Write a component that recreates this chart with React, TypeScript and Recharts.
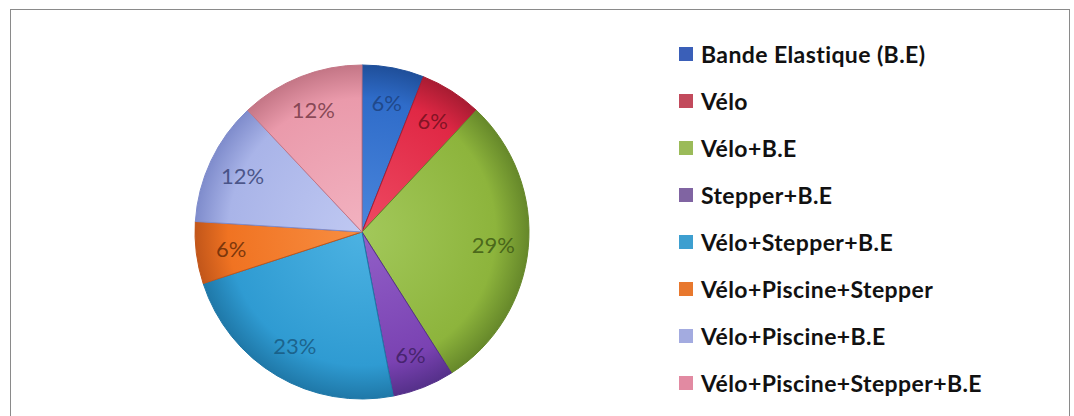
import React from 'react';
import { PieChart, Pie, Cell, Legend } from 'recharts';

const categories = [
  'Bande Elastique (B.E)',
  'Vélo',
  'Vélo+B.E',
  'Stepper+B.E',
  'Vélo+Stepper+B.E',
  'Vélo+Piscine+Stepper',
  'Vélo+Piscine+B.E',
  'Vélo+Piscine+Stepper+B.E',
];
const percents = [6, 6, 29, 6, 23, 6, 12, 12];
const sliceColors = ['#2f6cc9', '#e02845', '#8db43c', '#7a42b2', '#2f9bd2', '#f07322', '#a9b4e8', '#ea9aab'];
const lightColors = ['#4a86dc', '#ee4a62', '#a2c85a', '#9260c8', '#4cb2e2', '#f88e42', '#bfc8f2', '#f2b2c0'];
const edgeColors = ['#1f4f9a', '#a81c32', '#66882a', '#55308a', '#1f78a8', '#c2561a', '#7f8ccc', '#c47686'];
const labelColors = ['#1c3f7a', '#6a0e1c', '#3a5412', '#3a1c5c', '#17567c', '#5e2806', '#323c70', '#6e3340'];
const legendColors = ['#3a5fb8', '#c24a5c', '#9bbb59', '#8064a2', '#3d9fd0', '#e8782e', '#a3abe0', '#e28aa2'];

const data = categories.map((name, i) => ({ name, value: percents[i] }));

const RADIAN = Math.PI / 180;
const CX = 362;
const CY = 232;
const R = 167;

const renderLabel = (props: any) => {
  const { cx, cy, midAngle, outerRadius, index, value } = props;
  const r = outerRadius * 0.79;
  const x = cx + r * Math.cos(-midAngle * RADIAN);
  const y = cy + r * Math.sin(-midAngle * RADIAN);
  return (
    <text
      x={x}
      y={y}
      fill={labelColors[index]}
      fillOpacity={0.8}
      textAnchor="middle"
      dominantBaseline="central"
      fontSize={22}
      fontFamily="Lato, sans-serif"
    >
      {`${value}%`}
    </text>
  );
};

const LegendList = () => (
  <div style={{ fontFamily: 'Lato, sans-serif', fontSize: 23, fontWeight: 700, color: '#111', letterSpacing: 0.4 }}>
    {categories.map((c, i) => (
      <div key={c} style={{ display: 'flex', alignItems: 'center', height: 47 }}>
        <span
          style={{
            display: 'inline-block',
            width: 14,
            height: 14,
            background: legendColors[i],
            marginRight: 8,
            flexShrink: 0,
          }}
        />
        <span>{c}</span>
      </div>
    ))}
  </div>
);

export default function App() {
  return (
    <div style={{ position: 'absolute', left: 0, top: 0, width: 1074, height: 416, overflow: 'hidden', background: '#fff' }}>
      <div
        style={{
          position: 'absolute',
          left: 10,
          top: 9,
          width: 1060,
          height: 440,
          border: '1.5px solid #8a8a8a',
          boxSizing: 'border-box',
        }}
      />
      <PieChart
        width={1074}
        height={416}
        margin={{ top: 0, right: 0, bottom: 0, left: 0 }}
        style={{ position: 'absolute', left: 0, top: 0 }}
      >
        <defs>
          {sliceColors.map((c, i) => (
            <radialGradient key={c} id={`g${i}`} gradientUnits="userSpaceOnUse" cx={CX} cy={CY} r={R}>
              <stop offset="0%" stopColor={lightColors[i]} />
              <stop offset="80%" stopColor={c} />
              <stop offset="100%" stopColor={edgeColors[i]} />
            </radialGradient>
          ))}
        </defs>
        <Pie
          data={data}
          dataKey="value"
          nameKey="name"
          cx={CX}
          cy={CY}
          outerRadius={R}
          startAngle={90}
          endAngle={-270}
          label={renderLabel}
          labelLine={false}
          isAnimationActive={false}
        >
          {data.map((d, i) => (
            <Cell key={d.name} fill={`url(#g${i})`} stroke={edgeColors[i]} strokeWidth={1} />
          ))}
        </Pie>
        <Legend
          content={<LegendList />}
          layout="vertical"
          wrapperStyle={{ position: 'absolute', left: 679, top: 30, width: 390 }}
        />
      </PieChart>
    </div>
  );
}
